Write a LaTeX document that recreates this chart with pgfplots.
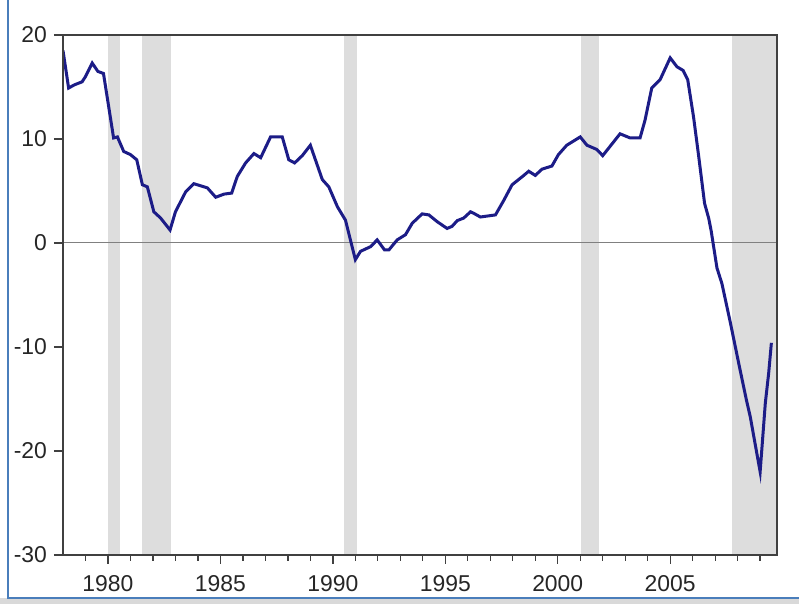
\documentclass[border=0pt]{standalone}
\usepackage{pgfplots}
\pgfplotsset{compat=1.18}
\usepackage{fontspec}
\setmainfont{Liberation Sans}
\newlength\px \setlength\px{0.5bp}
\definecolor{linec}{RGB}{28,28,135}
\definecolor{recess}{RGB}{221,221,221}
\definecolor{winblue}{RGB}{74,126,187}
\definecolor{frame}{RGB}{64,64,64}

\begin{document}
\begin{tikzpicture}
\useasboundingbox (0,0) rectangle (799\px,604\px);
\fill[white] (0,0) rectangle (799\px,604\px);
\fill[gray!30] (0,0) rectangle (799\px,6\px);
\draw[winblue, line width=2.5\px] (8\px,604\px) -- (8\px,6\px) -- (799\px,6\px);
\begin{axis}[
    at={(63\px,49\px)}, anchor=south west,
    scale only axis,
    width=714\px, height=520\px,
    xmin=1978, xmax=2009.75,
    ymin=-30, ymax=20,
    axis on top,
    axis line style={draw=frame, line width=1.3\px},
    xtick={1980,1985,...,2005},
    minor xtick={1979,1981,1982,1983,1984,1986,1987,1988,1989,1991,1992,1993,1994,1996,1997,1998,1999,2001,2002,2003,2004,2006,2007,2008,2009},
    ytick={-30,-20,...,20},
    tick align=outside,
    xtick pos=bottom, ytick pos=left,
    major tick length=9\px, minor tick length=6\px,
    tick style={draw=frame, line width=1.3\px},
    ticklabel style={font=\fontsize{11.5}{13}\selectfont, text=black!85},
    xticklabel shift=4\px,
    /pgf/number format/assume math mode=true,
    /pgf/number format/1000 sep={},
    ]
    % recessions
    \addplot[fill=recess, draw=none] coordinates {(1980.0,-30) (1980.0,20) (1980.55,20) (1980.55,-30)} --cycle;
    \addplot[fill=recess, draw=none] coordinates {(1981.5,-30) (1981.5,20) (1982.8,20) (1982.8,-30)} --cycle;
    \addplot[fill=recess, draw=none] coordinates {(1990.5,-30) (1990.5,20) (1991.08,20) (1991.08,-30)} --cycle;
    \addplot[fill=recess, draw=none] coordinates {(2001.05,-30) (2001.05,20) (2001.85,20) (2001.85,-30)} --cycle;
    \addplot[fill=recess, draw=none] coordinates {(2007.77,-30) (2007.77,20) (2009.75,20) (2009.75,-30)} --cycle;
    % zero line
    \addplot[gray, line width=1\px] coordinates {(1978,0) (2009.75,0)};
    \addplot[linec, line width=3\px] table {
    1978.0 18.5
    1978.25 14.9
    1978.5 15.2
    1978.85 15.5
    1979.0 16.0
    1979.3 17.3
    1979.55 16.5
    1979.8 16.3
    1980.25 10.1
    1980.42 10.2
    1980.7 8.8
    1981.0 8.5
    1981.28 8.0
    1981.53 5.6
    1981.75 5.4
    1982.04 3.0
    1982.34 2.4
    1982.76 1.25
    1983.0 3.0
    1983.45 4.9
    1983.82 5.7
    1984.42 5.3
    1984.79 4.4
    1985.16 4.7
    1985.5 4.8
    1985.75 6.4
    1986.12 7.7
    1986.49 8.6
    1986.79 8.2
    1987.23 10.2
    1987.75 10.2
    1988.04 8.0
    1988.3 7.7
    1988.64 8.4
    1989.0 9.4
    1989.53 6.1
    1989.82 5.4
    1990.2 3.5
    1990.56 2.2
    1991.0 -1.6
    1991.23 -0.8
    1991.68 -0.35
    1991.97 0.3
    1992.3 -0.67
    1992.49 -0.67
    1992.86 0.3
    1993.23 0.8
    1993.53 1.9
    1993.97 2.8
    1994.27 2.7
    1994.64 2.05
    1995.08 1.4
    1995.3 1.6
    1995.53 2.15
    1995.82 2.4
    1996.12 3.0
    1996.27 2.85
    1996.56 2.5
    1997.23 2.7
    1997.6 4.1
    1997.97 5.6
    1998.49 6.5
    1998.71 6.9
    1999.0 6.5
    1999.3 7.1
    1999.74 7.4
    2000.03 8.5
    2000.4 9.4
    2001.0 10.2
    2001.3 9.4
    2001.73 9.0
    2002.0 8.4
    2002.33 9.3
    2002.77 10.5
    2003.22 10.1
    2003.66 10.1
    2003.88 11.8
    2004.18 14.9
    2004.55 15.7
    2005.0 17.8
    2005.3 16.95
    2005.57 16.6
    2005.78 15.7
    2006.04 12.1
    2006.27 8.3
    2006.53 3.8
    2006.71 2.4
    2006.82 1.2
    2007.08 -2.4
    2007.3 -3.9
    2007.68 -7.7
    2008.05 -11.6
    2008.39 -15.1
    2008.56 -16.7
    2009.0 -22.0
    2009.23 -15.4
    2009.38 -12.5
    2009.5 -9.6
    };
\end{axis}
\end{tikzpicture}
\end{document}
